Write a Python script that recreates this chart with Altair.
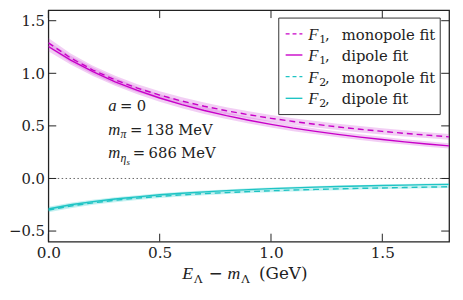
import altair as alt
import pandas as pd

# ---------------- data ----------------
x_vals = [0.0, 0.1, 0.2, 0.3, 0.4, 0.5, 0.6, 0.7, 0.8, 0.9,
          1.0, 1.1, 1.2, 1.3, 1.4, 1.5, 1.6, 1.7, 1.8]

f1_mono = [1.290, 1.146, 1.031, 0.937, 0.859, 0.793, 0.736, 0.687, 0.644, 0.606,
           0.572, 0.542, 0.515, 0.490, 0.468, 0.448, 0.429, 0.412, 0.396]
f1_mono_err = [0.045, 0.043, 0.041, 0.040, 0.038, 0.037, 0.036, 0.035, 0.034, 0.033,
               0.032, 0.031, 0.031, 0.030, 0.030, 0.029, 0.029, 0.028, 0.028]
f1_dip = [1.255, 1.125, 1.015, 0.919, 0.837, 0.765, 0.702, 0.646, 0.597, 0.554,
          0.515, 0.479, 0.448, 0.419, 0.393, 0.370, 0.348, 0.328, 0.310]
f1_dip_err = [0.045, 0.042, 0.040, 0.038, 0.036, 0.035, 0.034, 0.033, 0.032, 0.031,
              0.030, 0.029, 0.028, 0.028, 0.027, 0.027, 0.026, 0.026, 0.025]

f2_mono = [-0.300, -0.262, -0.232, -0.207, -0.187, -0.170, -0.156, -0.144, -0.134, -0.125,
           -0.117, -0.110, -0.104, -0.099, -0.094, -0.090, -0.086, -0.082, -0.079]
f2_mono_err = [0.022, 0.020, 0.019, 0.018, 0.017, 0.016, 0.015, 0.015, 0.014, 0.014,
               0.013, 0.013, 0.012, 0.012, 0.012, 0.011, 0.011, 0.011, 0.011]
f2_dip = [-0.290, -0.250, -0.220, -0.195, -0.175, -0.155, -0.140, -0.127, -0.116, -0.106,
          -0.097, -0.089, -0.082, -0.076, -0.071, -0.067, -0.063, -0.059, -0.056]
f2_dip_err = [0.020, 0.018, 0.017, 0.016, 0.015, 0.014, 0.013, 0.013, 0.012, 0.012,
              0.011, 0.011, 0.011, 0.010, 0.010, 0.010, 0.010, 0.010, 0.010]

x_ticks = [0.0, 0.5, 1.0, 1.5]
y_ticks = [-0.5, 0.0, 0.5, 1.0, 1.5]
x_domain = [0.0, 1.8]
y_domain = [-0.6, 1.6]

legend_names = ["monopole fit", "dipole fit", "monopole fit", "dipole fit"]
legend_subs = ["1", "1", "2", "2"]

# ---------------- styling ----------------
W, H = 407, 235
RFONT = "DejaVu Serif"        # upright text
IFONT = "Liberation Serif"    # italic math letters
TXT = "#222222"
MAG = "#c800c8"
CYA = "#1fc4c4"
MAG_BAND = "#d050d8"
CYA_BAND = "#30cccc"

xs = alt.Scale(domain=x_domain, nice=False, zero=False)
ys = alt.Scale(domain=y_domain, nice=False, zero=False)
x_axis = alt.Axis(values=x_ticks, format=".1f", ticks=False, domain=False, grid=False,
                  labelFont=RFONT, labelFontSize=15.5, labelColor=TXT, labelPadding=4,
                  labelFlush=False, title=None)
y_axis = alt.Axis(values=y_ticks, format=".1f", ticks=False, domain=False, grid=False,
                  labelFont=RFONT, labelFontSize=15, labelColor=TXT, labelPadding=4,
                  labelFlush=False, title=None)


def X(field):
    return alt.X(field, type="quantitative", scale=xs, axis=x_axis)


def Y(field):
    return alt.Y(field, type="quantitative", scale=ys, axis=y_axis)


def frame(vals, errs):
    return pd.DataFrame({
        "x": x_vals,
        "y": vals,
        "lo": [v - e for v, e in zip(vals, errs)],
        "hi": [v + e for v, e in zip(vals, errs)],
    })


series = [
    (frame(f1_mono, f1_mono_err), MAG, MAG_BAND, [6, 4]),
    (frame(f1_dip, f1_dip_err), MAG, MAG_BAND, None),
    (frame(f2_mono, f2_mono_err), CYA, CYA_BAND, [6, 4]),
    (frame(f2_dip, f2_dip_err), CYA, CYA_BAND, None),
]

layers = []
for df, lc, bc, dash in series:
    layers.append(alt.Chart(df).mark_area(color=bc, opacity=0.28, clip=True).encode(
        x=X("x"), y=Y("lo"), y2="hi"))

zero = alt.Chart(pd.DataFrame({"z": [0.0]})).mark_rule(
    color="#666666", strokeDash=[1.5, 2.5], strokeWidth=1).encode(y=Y("z"))
layers.append(zero)

for df, lc, bc, dash in series:
    kw = dict(color=lc, strokeWidth=1.4, clip=True)
    if dash:
        kw["strokeDash"] = dash
    layers.append(alt.Chart(df).mark_line(**kw).encode(x=X("x"), y=Y("y")))

# inward ticks on all four sides
xt = pd.DataFrame({"t": x_ticks})
yt = pd.DataFrame({"t": y_ticks})
TL = 8
layers.append(alt.Chart(xt).mark_rule(color=TXT, strokeWidth=1).encode(
    x=X("t"), y=alt.value(H), y2=alt.value(H - TL)))
layers.append(alt.Chart(xt).mark_rule(color=TXT, strokeWidth=1).encode(
    x=X("t"), y=alt.value(0), y2=alt.value(TL)))
layers.append(alt.Chart(yt).mark_rule(color=TXT, strokeWidth=1).encode(
    y=Y("t"), x=alt.value(0), x2=alt.value(TL)))
layers.append(alt.Chart(yt).mark_rule(color=TXT, strokeWidth=1).encode(
    y=Y("t"), x=alt.value(W), x2=alt.value(W - TL)))

one = pd.DataFrame({"a": [0]})


def mk(text, size, italic):
    kw = dict(text=text, fontSize=size, color=TXT, align="left", baseline="alphabetic")
    if italic:
        kw["font"] = IFONT
        kw["fontStyle"] = "italic"
    else:
        kw["font"] = RFONT
    return kw


def txt(text, size, italic, **enc):
    return alt.Chart(one).mark_text(**mk(text, size, italic)).encode(**enc)


# annotation block (in data coordinates)
ax0 = 0.269
ann = [
    (0.645, [("a", 17, True, 0, 0), ("=", 15, False, 12, 0), ("0", 15, False, 29, 0)]),
    (0.418, [("m", 17, True, 0, 0), ("π", 12, True, 12.5, 4), ("=", 15, False, 22, 0),
             ("138", 15, False, 38, 0), ("MeV", 15, False, 71, 0)]),
    (0.193, [("m", 17, True, 0, 0), ("η", 12, True, 12.5, 4), ("s", 9, True, 18.5, 7),
             ("=", 15, False, 25, 0), ("686", 15, False, 41, 0), ("MeV", 15, False, 74, 0)]),
]
for yv, parts in ann:
    for t, sz, it, dx, dy in parts:
        c = alt.Chart(one).mark_text(dx=dx, dy=dy, **mk(t, sz, it)).encode(
            x=alt.datum(ax0, scale=xs), y=alt.datum(yv, scale=ys))
        layers.append(c)

# x-axis title
tb = 273
for t, sz, it, px, py in [("E", 18, True, 136, tb), ("Λ", 12, False, 148, tb + 4),
                          ("−", 17, False, 163, tb), ("m", 18, True, 182, tb),
                          ("Λ", 12, False, 196, tb + 4), ("(GeV)", 17, False, 214, tb)]:
    layers.append(txt(t, sz, it, x=alt.value(px), y=alt.value(py)))

# legend
layers.append(alt.Chart(one).mark_rect(fill="white", stroke="#333333", strokeWidth=1).encode(
    x=alt.value(234), x2=alt.value(398), y=alt.value(8), y2=alt.value(106)))
row_y = [24, 45.5, 67.5, 89.5]
for i, (df, lc, bc, dash) in enumerate(series):
    cy = row_y[i]
    kw = dict(color=lc, strokeWidth=1.4)
    if dash:
        kw["strokeDash"] = [4, 3]
    layers.append(alt.Chart(one).mark_rule(**kw).encode(
        x=alt.value(241), x2=alt.value(258), y=alt.value(cy), y2=alt.value(cy)))
    layers.append(txt("F", 17, True, x=alt.value(264), y=alt.value(cy + 6)))
    layers.append(txt(legend_subs[i], 11, False, x=alt.value(275), y=alt.value(cy + 9)))
    layers.append(txt(",", 15, False, x=alt.value(281), y=alt.value(cy + 6)))
    layers.append(txt(legend_names[i], 15, False, x=alt.value(298), y=alt.value(cy + 6)))

chart = alt.layer(*layers).properties(
    width=W, height=H,
    autosize=alt.AutoSizeParams(type="none"),
    padding={"left": 41, "top": 0, "right": 6, "bottom": 50},
).configure_view(stroke="#222222", strokeWidth=1.3)

chart.save("out.html", embed_options={"renderer": "svg", "actions": False})
